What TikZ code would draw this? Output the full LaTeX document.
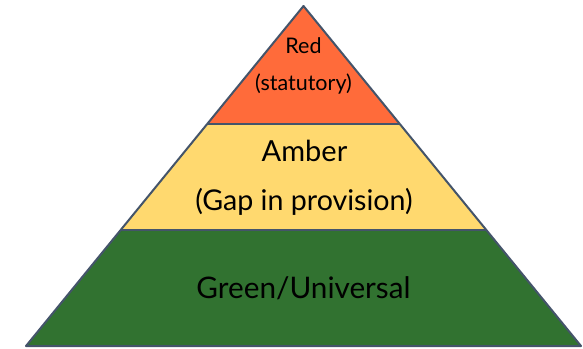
\documentclass[tikz,border=0pt]{standalone}
\usepackage{fontspec}
\setmainfont{Lato}
\usetikzlibrary{calc}
\definecolor{redL}{HTML}{FF6B3A}
\definecolor{amberL}{HTML}{FFD96F}
\definecolor{greenL}{HTML}{317230}
\definecolor{edgeC}{HTML}{44546A}
\tikzset{
  layer/.style={draw=edgeC, line width=2pt, line join=round},
  lbl/.style={anchor=base, inner sep=0pt, text=black},
}
\begin{document}
\begin{tikzpicture}[x=1pt,y=-1pt]
\useasboundingbox (0,0) rectangle (583,348);
\coordinate (apex) at (303.5,6);
\coordinate (bl) at (26,346);
\coordinate (br) at (581,346);
\coordinate (a1) at ($(apex)!0.347!(bl)$);
\coordinate (b1) at ($(apex)!0.347!(br)$);
\coordinate (a2) at ($(apex)!0.659!(bl)$);
\coordinate (b2) at ($(apex)!0.659!(br)$);
\fill[greenL] (a2) -- (b2) -- (br) -- (bl) -- cycle;
\fill[amberL] (a1) -- (b1) -- (b2) -- (a2) -- cycle;
\fill[redL] (apex) -- (b1) -- (a1) -- cycle;
\draw[layer] (apex) -- (br) -- (bl) -- cycle;
\draw[layer] (a1) -- (b1);
\draw[layer] (a2) -- (b2);
\node[lbl, font=\fontsize{21.5}{24}\selectfont] (red) at (303.5,53.5) {Red};
\node[lbl, font=\fontsize{21.5}{24}\selectfont] (stat) at (303.5,90) {(statutory)};
\node[lbl, font=\fontsize{29}{32}\selectfont] (amber) at (304.5,161) {Amber};
\node[lbl, font=\fontsize{28.6}{32}\selectfont] (gap) at (304,210) {(Gap in provision)};
\node[lbl, font=\fontsize{29.7}{32}\selectfont] (green) at (303.5,298) {Green/Universal};
\end{tikzpicture}
\end{document}
